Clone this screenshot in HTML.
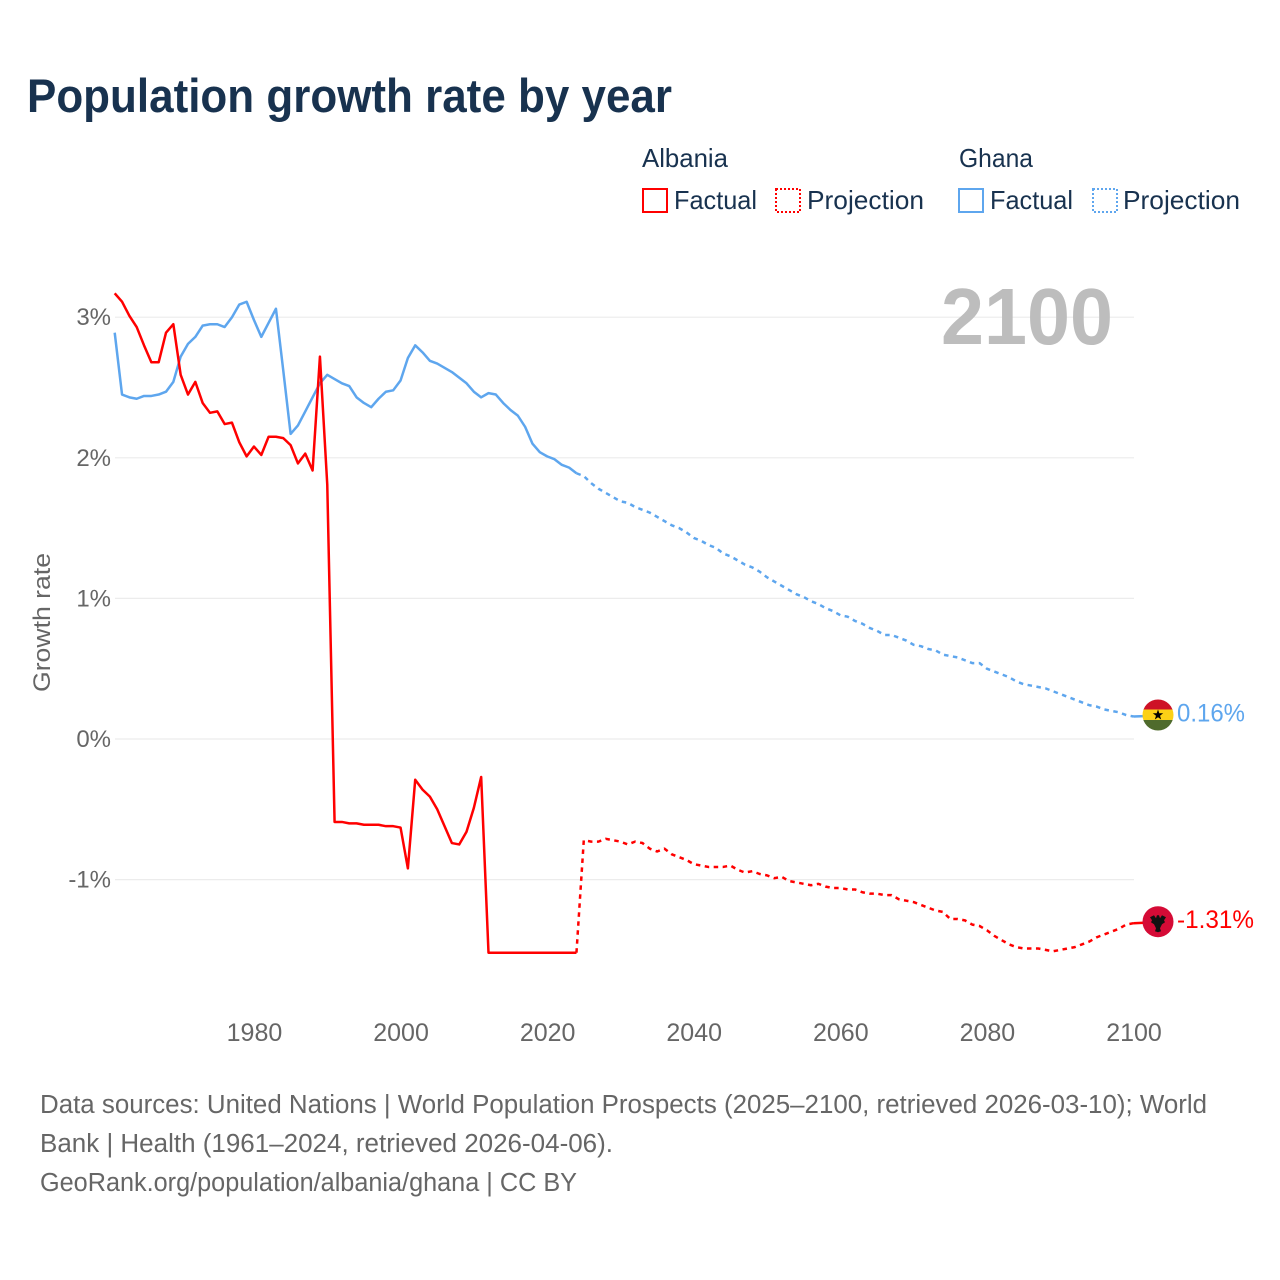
<!DOCTYPE html>
<html lang="en">
<head>
<meta charset="utf-8">
<title>Population growth rate by year</title>
<style>
  html,body{margin:0;padding:0;background:#fff;}
  svg{display:block;font-family:"Liberation Sans",sans-serif;}
</style>
</head>
<body>
<svg id="chart" xmlns="http://www.w3.org/2000/svg" width="1280" height="1280" viewBox="0 0 1280 1280">
  <rect x="0" y="0" width="1280" height="1280" fill="#ffffff"/>
  <text x="27" y="112" font-size="47" font-weight="700" fill="#18324f" textLength="645" lengthAdjust="spacingAndGlyphs">Population growth rate by year</text>

  <g font-size="26" fill="#18324f">
    <text x="642" y="167" textLength="86" lengthAdjust="spacingAndGlyphs">Albania</text>
    <text x="959" y="167" textLength="74" lengthAdjust="spacingAndGlyphs">Ghana</text>
    <rect x="643" y="189" width="24" height="23" fill="none" stroke="#ff0000" stroke-width="2"/>
    <text x="674" y="209" textLength="83" lengthAdjust="spacingAndGlyphs">Factual</text>
    <rect x="776" y="189" width="24" height="23" fill="none" stroke="#ff0000" stroke-width="2" stroke-dasharray="2 2"/>
    <text x="807" y="209" textLength="117" lengthAdjust="spacingAndGlyphs">Projection</text>
    <rect x="959" y="189" width="24" height="23" fill="none" stroke="#5ea6ee" stroke-width="2"/>
    <text x="990" y="209" textLength="83" lengthAdjust="spacingAndGlyphs">Factual</text>
    <rect x="1093" y="189" width="24" height="23" fill="none" stroke="#5ea6ee" stroke-width="2" stroke-dasharray="2 2"/>
    <text x="1123" y="209" textLength="117" lengthAdjust="spacingAndGlyphs">Projection</text>
  </g>

  <g id="grid"></g>
  <text x="941" y="344" font-size="80" font-weight="700" fill="#bdbdbd" textLength="172" lengthAdjust="spacingAndGlyphs">2100</text>
  <g id="y-ticks" font-size="24" fill="#666666" text-anchor="end"></g>
  <g id="x-ticks" font-size="25" fill="#666666" text-anchor="middle"></g>
  <text transform="translate(50,692) rotate(-90)" font-size="24" fill="#666666" textLength="139" lengthAdjust="spacingAndGlyphs">Growth rate</text>

  <g id="series" fill="none" stroke-width="2.5" stroke-linejoin="round"></g>

  <g id="ghana-end">
    <clipPath id="ghana-clip"><circle cx="0" cy="0" r="15.5"/></clipPath>
    <g clip-path="url(#ghana-clip)">
      <rect x="-16" y="-16" width="32" height="11" fill="#ce1126"/>
      <rect x="-16" y="-5.5" width="32" height="11" fill="#fcd116"/>
      <rect x="-16" y="5" width="32" height="11" fill="#4f6b2c"/>
      <polygon points="0,-5.5 1.3,-1.7 5.2,-1.7 2,0.7 3.2,4.5 0,2.2 -3.2,4.5 -2,0.7 -5.2,-1.7 -1.3,-1.7" fill="#000000"/>
    </g>
  </g>
  <g id="albania-end">
    <circle cx="0" cy="0" r="15.5" fill="#d50b36"/>
    <path transform="translate(0,1.5)" d="M-8,-6 L-4,-8 L-2,-5 L-1,-8 L1,-8 L2,-5 L4,-8 L8,-6 L6,-3 L7,-1 L4,1 L3,3 L2,5 L3,8 L0,9 L-3,8 L-2,5 L-3,3 L-4,1 L-7,-1 L-6,-3 Z" fill="#111111"/>
  </g>
  <text id="ghana-label" x="1177" font-size="25" fill="#5ea6ee" textLength="68" lengthAdjust="spacingAndGlyphs"></text>
  <text id="albania-label" x="1177" font-size="25" fill="#ff0000" textLength="77" lengthAdjust="spacingAndGlyphs"></text>

  <g font-size="25.5" fill="#666666">
    <text x="40" y="1113" textLength="1167" lengthAdjust="spacingAndGlyphs">Data sources: United Nations | World Population Prospects (2025–2100, retrieved 2026-03-10); World</text>
    <text x="40" y="1152" textLength="573" lengthAdjust="spacingAndGlyphs">Bank | Health (1961–2024, retrieved 2026-04-06).</text>
    <text x="40" y="1191" textLength="537" lengthAdjust="spacingAndGlyphs">GeoRank.org/population/albania/ghana | CC BY</text>
  </g>
</svg>

<script>
const firstFactualYear = 1961;
const firstProjectionYear = 2025;
const xTickYears = [1980, 2000, 2020, 2040, 2060, 2080, 2100];
const yTickValues = [3, 2, 1, 0, -1];

const albaniaFactual = [
  3.17,3.11,3.01,2.93,2.80,2.68,2.68,2.89,2.95,2.59,
  2.45,2.54,2.39,2.32,2.33,2.24,2.25,2.11,2.01,2.08,
  2.02,2.15,2.15,2.14,2.09,1.96,2.03,1.91,2.72,1.81,
  -0.59,-0.59,-0.60,-0.60,-0.61,-0.61,-0.61,-0.62,-0.62,-0.63,
  -0.92,-0.29,-0.36,-0.41,-0.50,-0.62,-0.74,-0.75,-0.66,-0.49,
  -0.27,-1.52,-1.52,-1.52,-1.52,-1.52,-1.52,-1.52,-1.52,-1.52,
  -1.52,-1.52,-1.52,-1.52
];
const albaniaProjection = [
  -0.72,-0.73,-0.73,-0.71,-0.72,-0.73,
  -0.75,-0.73,-0.74,-0.78,-0.80,-0.78,-0.82,-0.84,-0.86,-0.89,
  -0.90,-0.91,-0.91,-0.91,-0.90,-0.93,-0.95,-0.94,-0.96,-0.97,
  -0.99,-0.98,-1.01,-1.02,-1.03,-1.04,-1.03,-1.05,-1.06,-1.06,
  -1.07,-1.07,-1.09,-1.10,-1.10,-1.11,-1.11,-1.14,-1.15,-1.16,
  -1.18,-1.20,-1.22,-1.23,-1.28,-1.28,-1.29,-1.32,-1.33,-1.36,
  -1.40,-1.43,-1.46,-1.48,-1.49,-1.49,-1.49,-1.50,-1.51,-1.50,
  -1.49,-1.48,-1.46,-1.44,-1.41,-1.39,-1.37,-1.35,-1.32,-1.31
];
const ghanaFactual = [
  2.89,2.45,2.43,2.42,2.44,2.44,2.45,2.47,2.54,2.72,
  2.81,2.86,2.94,2.95,2.95,2.93,3.00,3.09,3.11,2.98,
  2.86,2.96,3.06,2.62,2.17,2.23,2.33,2.43,2.53,2.59,
  2.56,2.53,2.51,2.43,2.39,2.36,2.42,2.47,2.48,2.55,
  2.71,2.80,2.75,2.69,2.67,2.64,2.61,2.57,2.53,2.47,
  2.43,2.46,2.45,2.39,2.34,2.30,2.22,2.10,2.04,2.01,
  1.99,1.95,1.93,1.89
];
const ghanaProjection = [
  1.87,1.82,1.78,1.75,1.72,1.69,
  1.68,1.65,1.63,1.61,1.58,1.55,1.52,1.50,1.47,1.43,
  1.41,1.38,1.36,1.32,1.30,1.27,1.24,1.22,1.19,1.15,
  1.12,1.09,1.06,1.03,1.01,0.98,0.96,0.93,0.91,0.88,
  0.87,0.84,0.82,0.79,0.77,0.74,0.74,0.72,0.70,0.67,
  0.66,0.64,0.63,0.60,0.59,0.58,0.56,0.54,0.54,0.50,
  0.48,0.46,0.44,0.41,0.39,0.38,0.37,0.36,0.34,0.32,
  0.30,0.28,0.26,0.24,0.23,0.21,0.20,0.19,0.17,0.16
];

const SVG_NS = 'http://www.w3.org/2000/svg';
const RED = '#ff0000';
const BLUE = '#5ea6ee';
const X_LEFT = 114.7;
const X_RIGHT = 1133.5;
const GRID_LEFT = 115;
const GRID_RIGHT = 1134;
const Y_ZERO = 739;
const Y_PER_UNIT = 140.6;
const MARKER_X = 1158;

function xScale(year) {
  return X_LEFT + (year - 1961) * (X_RIGHT - X_LEFT) / (2100 - 1961);
}
function yScale(value) {
  return Y_ZERO - value * Y_PER_UNIT;
}
function pointsFor(values, startYear) {
  return values.map(function (v, i) {
    return xScale(startYear + i).toFixed(2) + ',' + yScale(v).toFixed(2);
  });
}

const gridGroup = document.getElementById('grid');
const yTickGroup = document.getElementById('y-ticks');
yTickValues.forEach(function (v) {
  const line = document.createElementNS(SVG_NS, 'line');
  
  
  line.setAttribute('x1', GRID_LEFT);
  line.setAttribute('x2', GRID_RIGHT);
  line.setAttribute('y1', yScale(v));
  line.setAttribute('y2', yScale(v));
  line.setAttribute('stroke', '#ececec');
  line.setAttribute('stroke-width', '1.2');
  gridGroup.appendChild(line);

  const label = document.createElementNS(SVG_NS, 'text');
  
  
  label.setAttribute('x', 111);
  label.setAttribute('y', yScale(v) + 8);
  label.textContent = v + '%';
  yTickGroup.appendChild(label);
});

const xTickGroup = document.getElementById('x-ticks');
xTickYears.forEach(function (year) {
  const label = document.createElementNS(SVG_NS, 'text');
  
  
  label.setAttribute('x', xScale(year) + 0.5);
  label.setAttribute('y', 1041);
  label.textContent = year;
  xTickGroup.appendChild(label);
});

function drawLine(points, color, dashed, name) {
  const line = document.createElementNS(SVG_NS, 'polyline');
  
  
  line.setAttribute('points', points.join(' '));
  line.setAttribute('stroke', color);
  if (dashed) {
    line.setAttribute('stroke-dasharray', '4.5 4.5');
  }
  document.getElementById('series').appendChild(line);
}

const seriesSpecs = [
  { factual: ghanaFactual, projection: ghanaProjection, color: BLUE, key: 'ghana' },
  { factual: albaniaFactual, projection: albaniaProjection, color: RED, key: 'albania' }
];
seriesSpecs.forEach(function (s) {
  const factualPts = pointsFor(s.factual, firstFactualYear);
  const projectionPts = pointsFor(s.projection, firstProjectionYear);
  const joinPt = factualPts[factualPts.length - 1];
  const lastPt = projectionPts[projectionPts.length - 1];
  const lastValue = s.projection[s.projection.length - 1];
  const endY = yScale(lastValue);

  drawLine(factualPts, s.color, false, s.key + '-factual-line');
  drawLine([joinPt].concat(projectionPts), s.color, true, s.key + '-projection-line');
  drawLine([lastPt, MARKER_X + ',' + (endY - 1).toFixed(2)], s.color, false, s.key + '-end-connector');

  document.getElementById(s.key + '-end').setAttribute('transform', 'translate(' + MARKER_X + ',' + (endY - 1.5).toFixed(2) + ')');
  const label = document.getElementById(s.key + '-label');
  label.setAttribute('y', (endY + 5).toFixed(2));
  label.textContent = lastValue.toFixed(2) + '%';
});
</script>
</body>
</html>
